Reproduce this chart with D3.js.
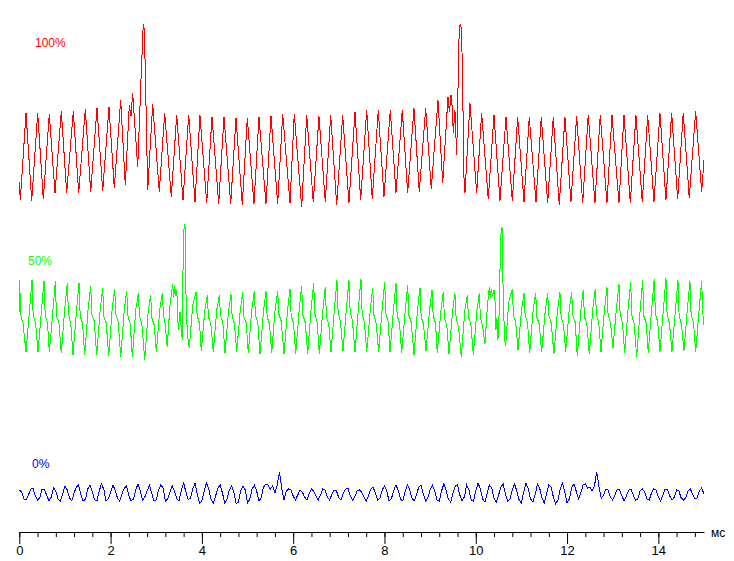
<!DOCTYPE html>
<html>
<head>
<meta charset="utf-8">
<script src="https://cdn.jsdelivr.net/npm/d3@7"></script>
<style>
  body { margin: 0; background: #fff; }
  .chart svg { display: block; }
  .lbl { font-family: Arial, "Liberation Sans", sans-serif; font-size: 12px; }
  .axis text { font-family: Arial, "Liberation Sans", sans-serif; font-size: 13px; fill: #000; }
  .axis path, .axis line { stroke: #000; }
</style>
</head>
<body>
<div class="chart"></div>
<script>
/* DATA */

// 100% trace: [time ms, signal]
const redTrace = [
  [0.000,-24],[0.022,-42],[0.147,45],[0.272,-43],[0.403,45],[0.526,-41],[0.657,44],[0.782,-35],
  [0.920,47],[1.038,-35],[1.183,47],[1.301,-35],[1.446,49],[1.564,-34],[1.702,50],[1.827,-33],
  [1.965,51],[2.081,-30],[2.221,58],[2.322,-27],[2.410,53],[2.447,42],[2.484,65],[2.519,41],
  [2.594,-9],[2.666,78],[2.716,134],[2.738,128],[2.760,88],[2.813,-32],[2.922,54],[3.067,-34],
  [3.185,45],[3.330,-39],[3.448,43],[3.586,-42],[3.711,43],[3.849,-44],[3.958,43],[4.105,-45],
  [4.221,41],[4.368,-46],[4.484,41],[4.631,-46],[4.747,40],[4.885,-47],[4.995,40],[5.141,-46],
  [5.251,41],[5.404,-46],[5.514,42],[5.660,-46],[5.770,44],[5.930,-45],[6.024,44],[6.186,-49],
  [6.296,43],[6.440,-44],[6.565,42],[6.703,-44],[6.822,43],[6.953,-47],[7.084,43],[7.222,-45],
  [7.354,46],[7.479,-42],[7.610,48],[7.733,-41],[7.864,48],[7.989,-39],[8.127,48],[8.252,-35],
  [8.390,48],[8.508,-35],[8.646,50],[8.762,-34],[8.903,50],[9.025,-31],[9.172,58],[9.275,-25],
  [9.391,61],[9.424,46],[9.457,63],[9.490,48],[9.507,25],[9.544,48],[9.582,3],[9.632,118],
  [9.656,134],[9.676,132],[9.705,98],[9.741,-19],[9.763,-35],[9.873,55],[10.020,-35],[10.129,45],
  [10.274,-41],[10.399,43],[10.530,-43],[10.662,41],[10.800,-43],[10.918,41],[11.056,-44],[11.172,41],
  [11.319,-44],[11.435,41],[11.575,-45],[11.698,41],[11.829,-47],[11.954,41],[12.085,-44],[12.210,42],
  [12.342,-45],[12.464,43],[12.611,-45],[12.727,43],[12.874,-45],[12.984,43],[13.137,-45],[13.247,43],
  [13.385,-45],[13.509,43],[13.647,-44],[13.766,43],[13.904,-44],[14.035,45],[14.166,-42],[14.291,45],
  [14.423,-41],[14.545,45],[14.677,-40],[14.817,47],[14.949,-34],[15.000,-2]
];

// 50% trace: [time ms, signal]
const greenTrace = [
  [0.000,5],[0.008,37],[0.030,2],[0.080,-6],
  [0.147,-35],[0.223,6],[0.278,37],[0.304,1],[0.355,-5],
  [0.410,-35],[0.486,7],[0.541,36],[0.567,2],[0.618,-6],
  [0.658,-35],[0.734,5],[0.789,36],[0.815,0],[0.866,-5],
  [0.920,-36],[0.996,8],[1.051,34],[1.077,3],[1.128,-7],
  [1.177,-38],[1.253,6],[1.308,34],[1.334,1],[1.385,-6],
  [1.433,-38],[1.509,9],[1.564,31],[1.590,2],[1.641,-4],
  [1.696,-38],[1.772,7],[1.827,29],[1.853,0],[1.904,-6],
  [1.959,-39],[2.035,8],[2.090,28],[2.116,2],[2.167,-5],
  [2.222,-40],[2.298,6],[2.353,26],[2.379,1],[2.430,-7],
  [2.476,-40],[2.552,7],[2.607,24],[2.633,0],[2.684,-6],
  [2.747,-43],[2.823,5],[2.878,22],[2.904,-1],[2.955,-8],
  [3.002,-35],[3.078,8],[3.133,24],[3.159,2],[3.190,-5],
  [3.240,-30],[3.301,12],[3.360,33],[3.382,19],[3.404,31],[3.426,21],[3.450,27],[3.483,-13],
  [3.520,5],[3.571,-23],[3.592,72],[3.614,93],[3.636,89],[3.652,22],[3.680,-16],[3.724,-31],
  [3.800,12],[3.871,25],[3.897,1],[3.948,-6],
  [3.987,-34],[4.063,6],[4.118,22],[4.144,0],[4.195,-6],
  [4.250,-35],[4.326,7],[4.381,22],[4.407,2],[4.458,-5],
  [4.506,-36],[4.582,5],[4.637,23],[4.663,1],[4.714,-7],
  [4.763,-35],[4.839,6],[4.894,25],[4.920,0],[4.971,-6],
  [5.017,-36],[5.093,7],[5.148,26],[5.174,2],[5.225,-5],
  [5.273,-37],[5.349,5],[5.404,26],[5.430,0],[5.481,-7],
  [5.529,-36],[5.605,8],[5.660,26],[5.686,3],[5.737,-4],
  [5.799,-37],[5.875,6],[5.930,28],[5.956,1],[6.007,-6],
  [6.055,-37],[6.131,7],[6.186,31],[6.212,2],[6.263,-5],
  [6.318,-37],[6.394,9],[6.449,34],[6.475,3],[6.526,-6],
  [6.572,-37],[6.648,6],[6.703,30],[6.729,0],[6.780,-7],
  [6.828,-35],[6.904,8],[6.959,37],[6.985,4],[7.036,-5],
  [7.091,-34],[7.167,9],[7.222,37],[7.248,5],[7.299,-4],
  [7.354,-35],[7.430,10],[7.485,38],[7.511,3],[7.562,-6],
  [7.611,-35],[7.687,6],[7.742,29],[7.768,2],[7.819,-7],
  [7.873,-35],[7.949,8],[8.004,35],[8.030,4],[8.081,-5],
  [8.121,-35],[8.197,7],[8.252,34],[8.278,1],[8.329,-6],
  [8.377,-36],[8.453,6],[8.508,32],[8.534,2],[8.585,-5],
  [8.647,-38],[8.723,7],[8.778,29],[8.804,0],[8.855,-7],
  [8.910,-34],[8.986,6],[9.041,27],[9.067,1],[9.118,-6],
  [9.157,-36],[9.233,5],[9.288,25],[9.314,-1],[9.365,-8],
  [9.413,-37],[9.489,4],[9.544,24],[9.570,-2],[9.621,-9],
  [9.683,-40],[9.759,6],[9.814,22],[9.840,0],[9.891,-6],
  [9.946,-38],[10.022,5],[10.077,24],[10.103,-1],[10.154,-10],
  [10.201,-27],[10.252,9],[10.296,30],[10.318,19],[10.340,28],[10.370,21],[10.399,27],[10.421,17],
  [10.442,-13],[10.464,-1],[10.486,-23],[10.515,7],[10.537,62],[10.559,90],[10.581,89],[10.603,12],
  [10.640,-25],[10.655,-29],[10.721,15],[10.800,28],[10.826,2],[10.877,-6],
  [10.925,-33],[11.001,6],[11.056,24],[11.082,1],[11.133,-5],
  [11.181,-36],[11.257,7],[11.312,24],[11.338,0],[11.389,-7],
  [11.444,-35],[11.520,5],[11.575,24],[11.601,2],[11.652,-6],
  [11.713,-37],[11.789,6],[11.844,25],[11.870,-1],[11.921,-7],
  [11.970,-35],[12.046,7],[12.101,25],[12.127,1],[12.178,-5],
  [12.224,-39],[12.300,6],[12.355,27],[12.381,0],[12.432,-6],
  [12.487,-37],[12.563,8],[12.618,28],[12.644,2],[12.695,-6],
  [12.743,-35],[12.819,7],[12.874,30],[12.900,1],[12.951,-5],
  [13.006,-31],[13.082,9],[13.137,33],[13.163,3],[13.214,-6],
  [13.262,-36],[13.338,8],[13.393,35],[13.419,2],[13.470,-7],
  [13.525,-40],[13.601,7],[13.656,37],[13.682,1],[13.733,-6],
  [13.779,-36],[13.855,9],[13.910,38],[13.936,3],[13.987,-5],
  [14.035,-35],[14.111,8],[14.166,39],[14.192,2],[14.243,-6],
  [14.298,-35],[14.374,7],[14.429,37],[14.455,1],[14.506,-7],
  [14.561,-34],[14.637,9],[14.692,36],[14.718,2],[14.769,-5],
  [14.818,-35],[14.894,8],[14.949,36],[14.975,3],[15.000,-8]
];

// 0% trace: one sample every 0.05 ms
const blueStep = 0.05;
const blueValues = [
  3,1,-6,-7,-2,4,5,-3,-7,-5,4,3,-2,-8,-4,5,2,-6,-8,-1,
  7,3,-5,-8,0,6,8,-2,-8,-6,4,8,1,-7,-8,2,9,4,-8,-6,
  1,8,3,-5,-8,-1,5,7,-3,-8,-6,3,9,2,-7,-4,2,8,0,-8,
  -7,3,8,5,-8,-6,1,7,2,-6,-8,3,10,1,-7,-5,4,10,-1,-10,
  -8,2,10,4,-6,-10,-3,5,8,0,-10,-6,3,7,1,-11,-9,2,7,3,
  -10,-6,4,8,2,-8,-5,6,9,8,4,7,0,8,21,4,-7,2,4,3,
  -3,-7,-2,3,1,-4,-7,-1,4,2,-3,-7,-2,4,3,-4,-7,-1,3,2,
  -5,-7,0,4,5,-3,-7,-4,2,3,1,-4,-8,-3,4,6,0,-7,-5,3,
  7,2,-8,-6,2,8,3,-6,-8,1,8,4,-5,-8,-2,6,8,-1,-8,-5,
  3,8,2,-7,-8,2,9,3,-6,-9,0,7,8,-2,-8,-4,8,3,-7,-8,
  2,10,4,-6,-9,0,8,5,-5,-9,-2,6,9,-1,-8,-6,3,9,2,-7,
  -10,1,10,4,-6,-9,-2,9,5,-5,-10,-1,8,6,-4,-11,-7,4,10,1,
  -10,-6,5,9,2,-6,0,8,9,5,6,2,7,21,6,-5,-2,4,3,-4,
  -7,-2,4,3,-3,-8,-3,3,4,-2,-7,-6,2,4,1,-6,-7,0,4,3,
  -4,-8,-2,4,3,-3,-7,-4,3,2,-5,-7,-5,2,4,-1,-6,-5,2,5,
  -1
];

const majorTicks = [0, 2, 4, 6, 8, 10, 12, 14];
const unitLabel = "мс";

/* CHART */

const W = 734, H = 561;

const svg = d3.select(".chart").append("svg")
    .attr("width", W)
    .attr("height", H);

const xScale = d3.scaleLinear()
    .domain([0, 15])
    .range([19.3, 704]);

// one y scale per trace, 1 unit of signal is 1 px, centred on the trace's band
const makeY = center => d3.scaleLinear().domain([0, 100]).range([center, center - 100]);

const traces = [
  {label: "100%", color: "#ff0000", y: makeY(158), data: redTrace, lx: 35, ly: 47},
  {label: "50%",  color: "#00ff00", y: makeY(317), data: greenTrace, lx: 28, ly: 265},
  {label: "0%",   color: "#0000ff", y: makeY(493), data: blueValues.map((v, i) => [i * blueStep, v]), lx: 32, ly: 468}
];

traces.forEach(tr => {
  const line = d3.line()
      .x(d => xScale(d[0]))
      .y(d => tr.y(d[1]));

  svg.append("path")
      .datum(tr.data)
      .attr("fill", "none")
      .attr("stroke", tr.color)
      .attr("stroke-width", 1)
      .attr("shape-rendering", "crispEdges")
      .attr("d", line);

  svg.append("text")
      .attr("class", "lbl")
      .attr("x", tr.lx)
      .attr("y", tr.ly)
      .attr("fill", tr.color)
      .text(tr.label);
});

// axis: minor ticks every 0.4 ms, labelled major ticks every 2 ms
const minorAxis = d3.axisBottom(xScale)
    .tickValues(d3.range(0, 15, 0.4))
    .tickSize(5)
    .tickSizeOuter(0)
    .tickFormat("");

const majorAxis = d3.axisBottom(xScale)
    .tickValues(majorTicks)
    .tickSize(12)
    .tickPadding(2)
    .tickFormat(d3.format("d"));

svg.append("g")
    .attr("class", "axis")
    .attr("transform", "translate(0,532)")
    .call(minorAxis);

const gMajor = svg.append("g")
    .attr("class", "axis")
    .attr("transform", "translate(0,532)")
    .call(majorAxis);
gMajor.select(".domain").remove();

svg.append("text")
    .attr("class", "lbl")
    .attr("x", 711)
    .attr("y", 537)
    .attr("fill", "#000")
    .text(unitLabel);
</script>
</body>
</html>
